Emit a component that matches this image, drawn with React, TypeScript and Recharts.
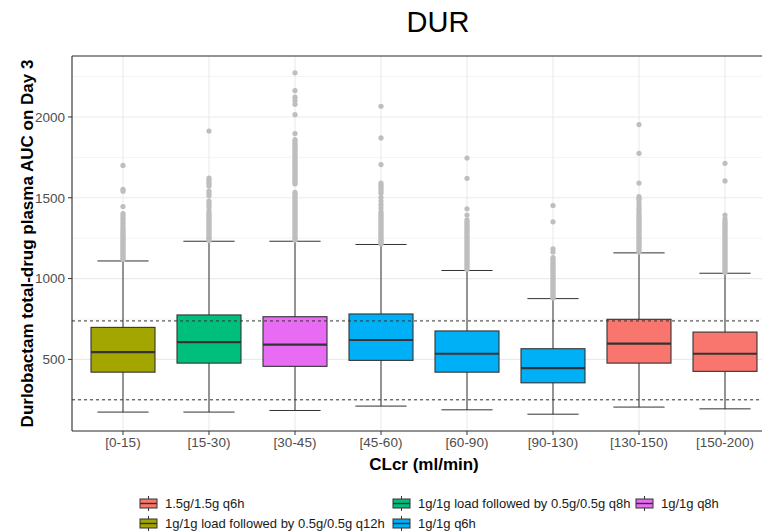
import React from 'react';
import {
  ComposedChart,
  Bar,
  Scatter,
  XAxis,
  YAxis,
  CartesianGrid,
  ReferenceLine,
  Legend,
  Label,
} from 'recharts';

const FONT = '"Liberation Sans", Arial, Helvetica, sans-serif';

// CLcr groups (x axis)
const categories = ['[0-15)', '[15-30)', '[30-45)', '[45-60)', '[60-90)', '[90-130)', '[130-150)', '[150-200)'];

// dosing regimens, in legend order
const regimens = [
  '1.5g/1.5g q6h',
  '1g/1g load followed by 0.5g/0.5g q12h',
  '1g/1g load followed by 0.5g/0.5g q8h',
  '1g/1g q6h',
  '1g/1g q8h',
];
const regimenColors = ['#F8766D', '#A3A500', '#00BF7D', '#00B0F6', '#E76BF3'];
const regimenOfCategory = [1, 2, 4, 3, 3, 3, 0, 0];

// box statistics per category
const lowerWhisker = [174, 174, 184, 211, 188, 161, 205, 194];
const q1 = [421, 477, 457, 494, 421, 355, 477, 426];
const median = [545, 607, 591, 620, 535, 446, 597, 535];
const q3 = [698, 775, 764, 781, 676, 566, 748, 669];
const upperWhisker = [1109, 1231, 1231, 1211, 1050, 876, 1159, 1033];

// outliers per category
const outliers: number[][] = [
  [1700, 1552, 1541, 1446, 1402, 1390, 1377, 1365, 1350, 1338, 1325, 1312, 1300, 1290, 1280, 1270, 1261, 1252, 1243,
    1234, 1225, 1216, 1207, 1198, 1189, 1180, 1171, 1162, 1153, 1144, 1135, 1126, 1118],
  [1913, 1622, 1610, 1598, 1585, 1572, 1541, 1527, 1512, 1480, 1466, 1452, 1440, 1418, 1405, 1394, 1383, 1372, 1361,
    1350, 1339, 1328, 1317, 1306, 1295, 1284, 1273, 1262, 1251, 1241, 1235],
  [2273, 2163, 2122, 2101, 2078, 2014, 1897, 1860, 1849, 1838, 1827, 1816, 1805, 1794, 1783, 1772, 1761, 1750, 1739,
    1728, 1717, 1706, 1695, 1684, 1673, 1662, 1651, 1640, 1629, 1618, 1607, 1596, 1585, 1533, 1522, 1511, 1500, 1489,
    1478, 1467, 1456, 1445, 1434, 1423, 1412, 1401, 1390, 1379, 1368, 1357, 1346, 1335, 1324, 1313, 1302, 1291, 1280,
    1269, 1258, 1247, 1238],
  [2066, 1870, 1705, 1591, 1580, 1568, 1556, 1541, 1528, 1502, 1480, 1457, 1436, 1415, 1404, 1393, 1382, 1371, 1360,
    1349, 1338, 1327, 1316, 1305, 1294, 1283, 1272, 1261, 1250, 1240, 1230, 1221, 1214],
  [1746, 1620, 1432, 1393, 1364, 1353, 1342, 1331, 1320, 1309, 1298, 1287, 1276, 1265, 1254, 1243, 1232, 1221, 1210,
    1199, 1188, 1177, 1166, 1155, 1144, 1133, 1122, 1111, 1100, 1089, 1078, 1067, 1056],
  [1452, 1351, 1184, 1165, 1130, 1119, 1108, 1097, 1086, 1075, 1064, 1053, 1042, 1031, 1020, 1009, 998, 987, 976, 965,
    954, 943, 932, 921, 910, 899, 888, 880],
  [1953, 1775, 1591, 1507, 1496, 1486, 1466, 1450, 1435, 1420, 1404, 1393, 1382, 1371, 1360, 1349, 1338, 1327, 1316,
    1305, 1294, 1283, 1272, 1261, 1250, 1239, 1228, 1217, 1206, 1195, 1184, 1173, 1164],
  [1713, 1604, 1393, 1370, 1354, 1343, 1332, 1321, 1310, 1299, 1288, 1277, 1266, 1255, 1244, 1233, 1222, 1211, 1200,
    1189, 1178, 1167, 1156, 1145, 1134, 1123, 1112, 1101, 1090, 1079, 1068, 1057, 1046, 1038],
];

// target thresholds (dashed lines)
const thresholds = [250, 738];

const yDomain = [57, 2377];
const yTicks = [500, 1000, 1500, 2000];
const yMinorTicks = [250, 750, 1250, 1750, 2250];

const boxData = categories.map((cat, i) => ({
  cat,
  range: [lowerWhisker[i], upperWhisker[i]],
  lower: lowerWhisker[i],
  q1: q1[i],
  median: median[i],
  q3: q3[i],
  upper: upperWhisker[i],
  regimen: regimenOfCategory[i],
}));

const outlierData = outliers.flatMap((vals, i) => vals.map((v) => ({ cat: categories[i], value: v })));

const LINE = '#333333';

const BoxShape = (props: any) => {
  const { x, y, width, height } = props;
  const d = props.payload ?? props;
  const top = Math.min(y, y + height);
  const h = Math.abs(height);
  const span = d.upper - d.lower;
  const py = (v: number) => top + ((d.upper - v) / span) * h;
  const cx = x + width / 2;
  const capHalf = width * 0.4;
  const fill = regimenColors[d.regimen];
  return (
    <g>
      <line x1={cx} x2={cx} y1={py(d.upper)} y2={py(d.lower)} stroke={LINE} strokeWidth={1} />
      <line x1={cx - capHalf} x2={cx + capHalf} y1={py(d.upper)} y2={py(d.upper)} stroke={LINE} strokeWidth={1} />
      <line x1={cx - capHalf} x2={cx + capHalf} y1={py(d.lower)} y2={py(d.lower)} stroke={LINE} strokeWidth={1} />
      <rect x={x} y={py(d.q3)} width={width} height={py(d.q1) - py(d.q3)} fill={fill} stroke={LINE} strokeWidth={1.1} />
      <line x1={x} x2={x + width} y1={py(d.median)} y2={py(d.median)} stroke={LINE} strokeWidth={2.2} />
    </g>
  );
};

const OutlierDot = (props: any) => <circle cx={props.cx} cy={props.cy} r={2.6} fill="#BEBEBE" />;

const LegendKey = ({ color }: { color: string }) => (
  <svg width={19} height={17}>
    <line x1={9.5} x2={9.5} y1={1} y2={16} stroke={LINE} strokeWidth={1} />
    <rect x={1} y={4} width={17} height={9} fill={color} stroke={LINE} strokeWidth={1} />
    <line x1={1} x2={18} y1={8.5} y2={8.5} stroke={LINE} strokeWidth={1.4} />
  </svg>
);

// ggplot fills the legend by column: two rows
const legendOrder = [0, 2, 4, 1, 3];

const RegimenLegend = () => (
  <div
    style={{
      display: 'grid',
      gridTemplateColumns: '253px 243px auto',
      gridAutoRows: '20px',
      fontFamily: FONT,
      fontSize: 13,
      color: '#1a1a1a',
    }}
  >
    {legendOrder.map((r) => (
      <div key={r} style={{ display: 'flex', alignItems: 'center', whiteSpace: 'nowrap' }}>
        <LegendKey color={regimenColors[r]} />
        <span style={{ marginLeft: 7 }}>{regimens[r]}</span>
      </div>
    ))}
  </div>
);

const YTitle = (props: any) => {
  const vb = props.viewBox;
  const cy = vb.y + vb.height / 2;
  return (
    <text
      x={33}
      y={cy}
      transform={`rotate(-90, 33, ${cy})`}
      textAnchor="middle"
      fontFamily={FONT}
      fontWeight="bold"
      fontSize={17}
      fill="#000"
    >
      Durlobactam total-drug plasma AUC on Day 3
    </text>
  );
};

const XTitle = (props: any) => {
  const vb = props.viewBox;
  return (
    <text
      x={vb.x + vb.width / 2}
      y={470}
      textAnchor="middle"
      fontFamily={FONT}
      fontWeight="bold"
      fontSize={17}
      fill="#000"
    >
      CLcr (ml/min)
    </text>
  );
};

export default function App() {
  const tickStyle = { fill: '#4d4d4d', fontSize: 13.5, fontFamily: FONT };
  return (
    <div style={{ position: 'absolute', left: 0, top: 0, width: 762, height: 532, overflow: 'hidden', background: '#fff' }}>
      <div
        style={{
          position: 'absolute',
          left: 0,
          top: 8,
          width: 876,
          textAlign: 'center',
          fontFamily: FONT,
          fontSize: 29,
          lineHeight: '29px',
          color: '#000',
        }}
      >
        DUR
      </div>
      <ComposedChart
        width={786}
        height={532}
        data={boxData}
        margin={{ top: 56, right: 10, bottom: 56, left: 0 }}
        barSize={64}
      >
        <CartesianGrid stroke="#EBEBEB" strokeWidth={1.1} />
        <CartesianGrid stroke="#EBEBEB" strokeWidth={0.6} vertical={false} horizontalValues={yMinorTicks} />
        <XAxis
          dataKey="cat"
          type="category"
          allowDuplicatedCategory={false}
          interval={0}
          padding={{ left: 8, right: 8 }}
          height={45}
          tickSize={4}
          tickMargin={2}
          tick={tickStyle}
          axisLine={{ stroke: LINE, strokeWidth: 1.1 }}
          tickLine={{ stroke: LINE }}
        >
          <Label content={XTitle} />
        </XAxis>
        <YAxis
          type="number"
          domain={yDomain}
          allowDataOverflow
          ticks={yTicks}
          width={72}
          tickSize={4}
          tickMargin={3}
          tick={tickStyle}
          axisLine={{ stroke: LINE, strokeWidth: 1.1 }}
          tickLine={{ stroke: LINE }}
        >
          <Label content={YTitle} />
        </YAxis>
        <ReferenceLine y={yDomain[1]} stroke={LINE} strokeWidth={1.1} ifOverflow="visible" />
        <Bar dataKey="range" shape={BoxShape} isAnimationActive={false} />
        <Scatter data={outlierData} dataKey="value" shape={OutlierDot} isAnimationActive={false} />
        {thresholds.map((t) => (
          <ReferenceLine key={t} y={t} stroke={LINE} strokeDasharray="3 3" strokeWidth={1} />
        ))}
        <Legend
          layout="horizontal"
          verticalAlign="middle"
          align="center"
          wrapperStyle={{ left: 139, top: 493, width: 620, height: 40 }}
          content={() => <RegimenLegend />}
        />
      </ComposedChart>
    </div>
  );
}
